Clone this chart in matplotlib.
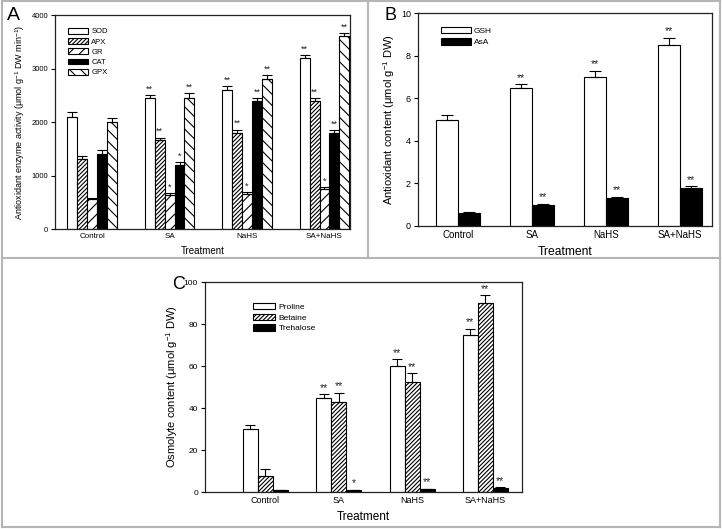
import numpy as np
import matplotlib
matplotlib.use("Agg")
import matplotlib.pyplot as plt
from matplotlib.lines import Line2D

plt.rcParams['font.family'] = ['Liberation Sans', 'DejaVu Sans']
plt.rcParams['mathtext.fontset'] = 'custom'
plt.rcParams['mathtext.rm'] = 'Liberation Sans'
plt.rcParams['mathtext.it'] = 'Liberation Sans:italic'
plt.rcParams['hatch.linewidth'] = 0.8

# === Data ===
treatments = ['Control', 'SA', 'NaHS', 'SA+NaHS']

# Panel A: antioxidant enzymes
enzymes = ['SOD', 'APX', 'GR', 'CAT', 'GPX']
sod = [2100, 2450, 2600, 3200]
apx = [1300, 1660, 1800, 2400]
gr = [565, 640, 660, 750]
cat = [1400, 1200, 2400, 1800]
gpx = [2000, 2450, 2800, 3600]
sod_err = [90, 60, 80, 55]
apx_err = [70, 50, 60, 50]
gr_err = [20, 25, 25, 40]
cat_err = [80, 55, 50, 55]
gpx_err = [70, 90, 70, 60]
sod_sig = ['', '**', '**', '**']
apx_sig = ['', '**', '**', '**']
gr_sig = ['', '*', '*', '*']
cat_sig = ['', '*', '**', '**']
gpx_sig = ['', '**', '**', '**']

# Panel B: antioxidant content
gsh = [5.0, 6.5, 7.0, 8.5]
asa = [0.6, 1.0, 1.3, 1.8]
gsh_err = [0.2, 0.15, 0.3, 0.35]
asa_err = [0.05, 0.05, 0.08, 0.06]
gsh_sig = ['', '**', '**', '**']
asa_sig = ['', '**', '**', '**']

# Panel C: osmolytes
proline = [30, 45, 60, 75]
betaine = [7.7, 42.7, 52.5, 90]
trehalose = [0.8, 1.0, 1.3, 1.9]
proline_err = [2.0, 1.6, 3.2, 2.7]
betaine_err = [3.2, 4.6, 4.1, 3.7]
trehalose_err = [0.2, 0.2, 0.25, 0.3]
proline_sig = ['', '**', '**', '**']
betaine_sig = ['', '**', '**', '**']
trehalose_sig = ['', '*', '**', '**']


def draw_group(ax, series, errs, sigs, styles, width, labels, star_fs, capsize):
    x = np.arange(len(treatments))
    n = len(series)
    for i, (vals, err, sig, st, lab) in enumerate(zip(series, errs, sigs, styles, labels)):
        pos = x + (i - (n - 1) / 2) * width
        ax.bar(pos, vals, width, color=st[0], edgecolor='black', hatch=st[1],
               linewidth=0.8, label=lab, zorder=2)
        ax.errorbar(pos, vals, yerr=[np.zeros(len(vals)), err], fmt='none',
                    ecolor='black', elinewidth=0.8, capsize=capsize, capthick=0.8, zorder=3)
        for p, v, e, s in zip(pos, vals, err, sig):
            if s:
                ax.annotate(s, (p, v + e), xytext=(0, 1.0), textcoords='offset points',
                            ha='center', va='bottom', fontsize=star_fs, color='#222222')


def style_axes(ax, ylim, yticks, tick_fs, cat_fs, xlabel_fs, ylabel, ylabel_fs, xlim):
    ax.set_ylim(*ylim)
    ax.set_xlim(*xlim)
    ax.set_yticks(yticks)
    ax.tick_params(axis='y', direction='out', length=3, width=0.8, labelsize=tick_fs, pad=2)
    ax.set_xticks(np.arange(len(treatments)))
    ax.set_xticklabels(treatments, fontsize=cat_fs)
    ax.tick_params(axis='x', length=0, pad=3)
    for sp in ax.spines.values():
        sp.set_linewidth(0.9)
        sp.set_color('#222222')
    ax.set_xlabel('Treatment', fontsize=xlabel_fs, labelpad=4)
    ax.set_ylabel(ylabel, fontsize=ylabel_fs, labelpad=3)


fig = plt.figure(figsize=(7.22, 5.29), dpi=100)

# --- Panel A ---
axA = fig.add_axes([0.0762, 0.5671, 0.4086, 0.4045])
draw_group(axA, [sod, apx, gr, cat, gpx],
           [sod_err, apx_err, gr_err, cat_err, gpx_err],
           [sod_sig, apx_sig, gr_sig, cat_sig, gpx_sig],
           [('white', ''), ('white', '////////'), ('white', '///'), ('black', ''), ('white', '\\\\\\')],
           0.128, enzymes, 6.5, 3.5)
style_axes(axA, (0, 4000), [0, 1000, 2000, 3000, 4000], 5.5, 5.8, 7,
           'Antioxidant enzyme activity (μmol g$^{-1}$ DW min$^{-1}$)', 6.5, (-0.48, 3.33))
axA.legend(loc='upper left', bbox_to_anchor=(0.045, 0.94), frameon=False, fontsize=5.5,
           handlelength=2.6, handleheight=0.8, labelspacing=0.35, handletextpad=0.4,
           borderpad=0, borderaxespad=0)

# --- Panel B ---
axB = fig.add_axes([0.5789, 0.5728, 0.4072, 0.4026])
draw_group(axB, [gsh, asa], [gsh_err, asa_err], [gsh_sig, asa_sig],
           [('white', ''), ('black', '')], 0.30, ['GSH', 'AsA'], 7.5, 4)
style_axes(axB, (0, 10), [0, 2, 4, 6, 8, 10], 6.5, 7, 8.7,
           'Antioxidant content (μmol g$^{-1}$ DW)', 8, (-0.54, 3.43))
axB.legend(loc='upper left', bbox_to_anchor=(0.08, 0.935), frameon=False, fontsize=6,
           handlelength=3.5, handleheight=0.8, labelspacing=0.4, handletextpad=0.4,
           borderpad=0, borderaxespad=0)

# --- Panel C ---
axC = fig.add_axes([0.2839, 0.0699, 0.4391, 0.397])
draw_group(axC, [proline, betaine, trehalose],
           [proline_err, betaine_err, trehalose_err],
           [proline_sig, betaine_sig, trehalose_sig],
           [('white', ''), ('white', '////////'), ('black', '')],
           0.205, ['Proline', 'Betaine', 'Trehalose'], 7.5, 3.5)
style_axes(axC, (0, 100), [0, 20, 40, 60, 80, 100], 6, 6.5, 8.5,
           'Osmolyte content (μmol g$^{-1}$ DW)', 8, (-0.825, 3.5))
axC.legend(loc='upper left', bbox_to_anchor=(0.15, 0.9), frameon=False, fontsize=6,
           handlelength=2.7, handleheight=0.8, labelspacing=0.3, handletextpad=0.4,
           borderpad=0, borderaxespad=0)

# === Panel letters ===
fig.text(7 / 722, 1 - 20 / 529, 'A', fontsize=14)
fig.text(384 / 722, 1 - 20 / 529, 'B', fontsize=13)
fig.text(172 / 722, 1 - 289 / 529, 'C', fontsize=13)

# === Panel frames ===
gray = '#b5b5b5'
W, H = 722, 529
frame = [((2, 1), (720, 1)), ((2, 527), (720, 527)), ((2, 1), (2, 527)),
         ((720, 1), (720, 527)), ((2, 258), (720, 258)), ((368, 1), (368, 258))]
for (x0, y0), (x1, y1) in frame:
    fig.add_artist(Line2D([x0 / W, x1 / W], [1 - y0 / H, 1 - y1 / H], color=gray, lw=1.5))

fig.savefig('out.png', dpi=100)
